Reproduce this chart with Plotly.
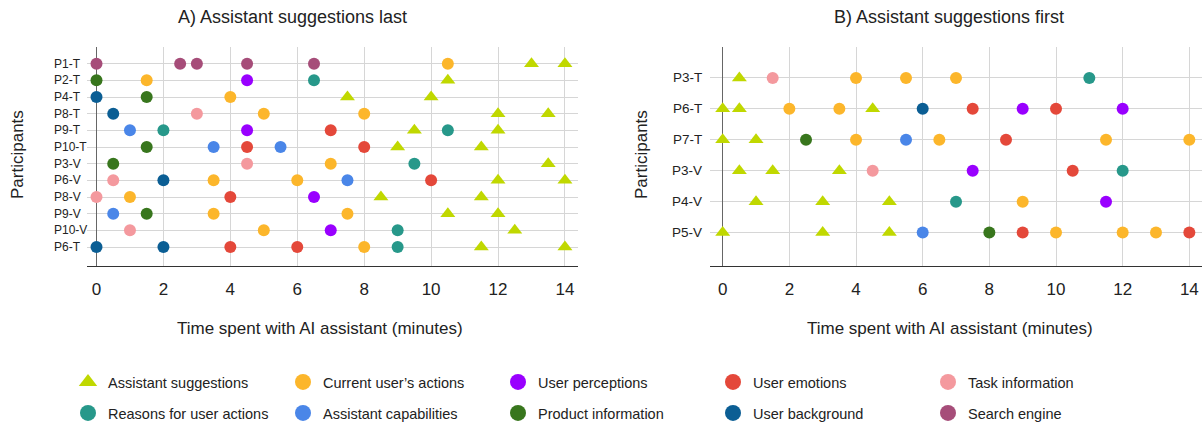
import plotly.graph_objects as go

# ---------------- data ----------------
categories = [
    "Assistant suggestions", "Current user\u2019s actions", "User perceptions",
    "User emotions", "Task information", "Reasons for user actions",
    "Assistant capabilities", "Product information", "User background",
    "Search engine",
]
colors = ["#c0d800", "#fcb62b", "#9900ff", "#e4483a", "#f4999e",
          "#27988a", "#4a86e8", "#38761d", "#0b5e94", "#a64d79"]

rows_a = ["P1-T", "P2-T", "P4-T", "P8-T", "P9-T", "P10-T",
          "P3-V", "P6-V", "P8-V", "P9-V", "P10-V", "P6-T"]
rows_b = ["P3-T", "P6-T", "P7-T", "P3-V", "P4-V", "P5-V"]

# Chart A: assistant suggestions last (minutes per participant)
a_suggestions = {"P1-T": [13, 14], "P2-T": [10.5], "P4-T": [7.5, 10], "P8-T": [12, 13.5],
                 "P9-T": [9.5, 12], "P10-T": [9, 11.5], "P3-V": [13.5], "P6-V": [12, 14],
                 "P8-V": [8.5, 11.5], "P9-V": [10.5, 12], "P10-V": [12.5], "P6-T": [11.5, 14]}
a_current_actions = {"P1-T": [10.5], "P2-T": [1.5], "P4-T": [4], "P8-T": [5, 8],
                     "P3-V": [7], "P6-V": [3.5, 6], "P8-V": [1], "P9-V": [3.5, 7.5],
                     "P10-V": [5], "P6-T": [8]}
a_perceptions = {"P2-T": [4.5], "P9-T": [4.5], "P8-V": [6.5], "P10-V": [7]}
a_emotions = {"P9-T": [7], "P10-T": [4.5, 8], "P6-V": [10], "P8-V": [4], "P6-T": [4, 6]}
a_task_info = {"P8-T": [3], "P3-V": [4.5], "P6-V": [0.5], "P8-V": [0], "P10-V": [1]}
a_reasons = {"P2-T": [6.5], "P9-T": [2, 10.5], "P3-V": [9.5], "P10-V": [9], "P6-T": [9]}
a_capabilities = {"P9-T": [1], "P10-T": [3.5, 5.5], "P6-V": [7.5], "P9-V": [0.5]}
a_product_info = {"P2-T": [0], "P4-T": [1.5], "P10-T": [1.5], "P3-V": [0.5], "P9-V": [1.5]}
a_background = {"P4-T": [0], "P8-T": [0.5], "P6-V": [2], "P6-T": [0, 2]}
a_search = {"P1-T": [0, 2.5, 3, 4.5, 6.5]}

# Chart B: assistant suggestions first
b_suggestions = {"P3-T": [0.5], "P6-T": [0, 0.5, 4.5], "P7-T": [0, 1],
                 "P3-V": [0.5, 1.5, 3.5], "P4-V": [1, 3, 5], "P5-V": [0, 3, 5]}
b_current_actions = {"P3-T": [4, 5.5, 7], "P6-T": [2, 3.5], "P7-T": [4, 6.5, 11.5, 14],
                     "P4-V": [9], "P5-V": [10, 12, 13]}
b_perceptions = {"P6-T": [9, 12], "P3-V": [7.5], "P4-V": [11.5]}
b_emotions = {"P6-T": [7.5, 10], "P7-T": [8.5], "P3-V": [10.5], "P5-V": [9, 14]}
b_task_info = {"P3-T": [1.5], "P3-V": [4.5]}
b_reasons = {"P3-T": [11], "P3-V": [12], "P4-V": [7]}
b_capabilities = {"P7-T": [5.5], "P5-V": [6]}
b_product_info = {"P7-T": [2.5], "P5-V": [8]}
b_background = {"P6-T": [6]}
b_search = {}

chart_a = [a_suggestions, a_current_actions, a_perceptions, a_emotions, a_task_info,
           a_reasons, a_capabilities, a_product_info, a_background, a_search]
chart_b = [b_suggestions, b_current_actions, b_perceptions, b_emotions, b_task_info,
           b_reasons, b_capabilities, b_product_info, b_background, b_search]

title_a = "A) Assistant suggestions last"
title_b = "B) Assistant suggestions first"
x_title = "Time spent with AI assistant (minutes)"
y_title = "Participants"

# ---------------- figure ----------------
# body margin is removed in post_script, so figure pixels == window pixels.
# Figure is a bit taller than the window so the bottom legend row is not pushed up.
W, H = 1202, 460
FONT = "Arial, 'Liberation Sans', sans-serif"
fig = go.Figure()


def px_x(p):
    return p / W


def px_y(p):
    return 1 - p / H


def add_chart(data, rows, xa, ya):
    for i, (cat, col) in enumerate(zip(categories, colors)):
        xs, ys = [], []
        for r_i, r in enumerate(rows):
            for v in data[i].get(r, []):
                xs.append(v)
                ys.append(r_i)
        if not xs:
            continue
        tri = i == 0
        fig.add_trace(go.Scatter(
            x=xs, y=ys, mode="markers", xaxis=xa, yaxis=ya, name=cat,
            showlegend=False,
            marker=dict(symbol="triangle-up" if tri else "circle",
                        size=13 if tri else 12, color=col, line=dict(width=0)),
        ))


# legend-only entries (two rows of five)
for i, (cat, col) in enumerate(zip(categories, colors)):
    fig.add_trace(go.Scatter(
        x=[None], y=[None], mode="markers", name=cat,
        legend="legend" if i < 5 else "legend2",
        marker=dict(symbol="triangle-up" if i == 0 else "circle", size=16, color=col),
    ))

add_chart(chart_a, rows_a, "x", "y")
add_chart(chart_b, rows_b, "x2", "y2")

grid = "#d6d6d6"
xcommon = dict(tickmode="linear", tick0=0, dtick=2, showgrid=True, gridcolor=grid,
               gridwidth=1, zeroline=True, zerolinecolor="#666", zerolinewidth=1,
               showline=True, linecolor="#333", linewidth=1, ticks="",
               tickfont=dict(size=17, color="#222", family=FONT),
               ticklabelstandoff=8, automargin=False)
ycommon = dict(showgrid=True, gridcolor=grid, gridwidth=1, zeroline=False,
               showticklabels=False, ticks="", showline=False, automargin=False,
               domain=[px_y(266), px_y(47)])

leg_common = dict(orientation="h", x=px_x(68), xanchor="left", yanchor="middle",
                  entrywidth=170, entrywidthmode="pixels", bgcolor="rgba(0,0,0,0)",
                  font=dict(size=14.5, color="#222", family=FONT), itemclick=False)

fig.update_layout(
    width=W, height=H, margin=dict(l=0, r=0, t=0, b=0),
    paper_bgcolor="white", plot_bgcolor="white",
    font=dict(family=FONT, color="#222"),
    xaxis=dict(domain=[px_x(87), px_x(578)], range=[-0.284, 14.39], anchor="y", **xcommon),
    xaxis2=dict(domain=[px_x(710), 1.0], range=[-0.381, 14.38], anchor="y2", **xcommon),
    yaxis=dict(anchor="x", range=[12.14, -1], tickvals=list(range(-1, len(rows_a))), **ycommon),
    yaxis2=dict(anchor="x2", range=[6.08, -1], tickvals=list(range(-1, len(rows_b))), **ycommon),
    legend=dict(y=px_y(382), **leg_common),
    legend2=dict(y=px_y(413), **leg_common),
    showlegend=True,
)

ann = []
# row labels
for i, r in enumerate(rows_a):
    ann.append(dict(text=r, x=px_x(52), xref="paper", xanchor="left", y=i, yref="y",
                    yanchor="middle", showarrow=False, font=dict(size=12, color="#222", family=FONT)))
for i, r in enumerate(rows_b):
    ann.append(dict(text=r, x=px_x(704), xref="paper", xanchor="right", y=i, yref="y2",
                    yanchor="middle", showarrow=False, font=dict(size=13.5, color="#222", family=FONT)))
# titles
ann.append(dict(text=title_a, x=px_x(292), y=px_y(17), xref="paper", yref="paper",
                xanchor="center", yanchor="middle", showarrow=False,
                font=dict(size=18, color="#222", family=FONT)))
ann.append(dict(text=title_b, x=px_x(949), y=px_y(17), xref="paper", yref="paper",
                xanchor="center", yanchor="middle", showarrow=False,
                font=dict(size=18, color="#222", family=FONT)))
# axis titles
for cx in (320, 950):
    ann.append(dict(text=x_title, x=px_x(cx), y=px_y(328), xref="paper", yref="paper",
                    xanchor="center", yanchor="middle", showarrow=False,
                    font=dict(size=17, color="#222", family=FONT)))
for cx in (18, 642):
    ann.append(dict(text=y_title, x=px_x(cx), y=px_y(155), xref="paper", yref="paper",
                    xanchor="center", yanchor="middle", showarrow=False, textangle=-90,
                    font=dict(size=17, color="#222", family=FONT)))
fig.update_layout(annotations=ann)

fig.write_html(
    "out.html",
    config={"displayModeBar": False},
    post_script="document.body.style.margin='0';document.body.style.overflow='hidden';"
                "document.documentElement.style.overflow='hidden';",
)
